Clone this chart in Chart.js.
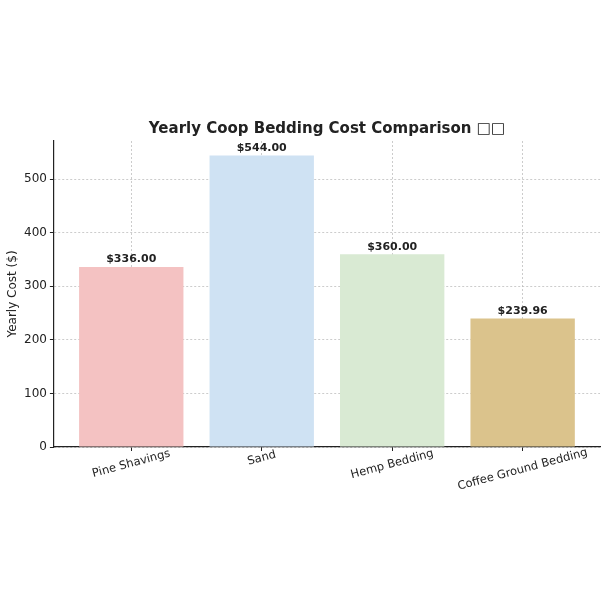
<!DOCTYPE html>
<html lang="en">
<head>
    <meta charset="UTF-8">
    <title>Yearly Coop Bedding Cost Comparison</title>
    <script src="https://cdn.jsdelivr.net/npm/chart.js"></script>
    <style>
        body { margin: 0; background: #fff; }
        #wrap { width: 608px; height: 608px; }
    </style>
</head>
<body>
    <div id="wrap"><canvas id="costChart" width="608" height="608"></canvas></div>

    <script>
        // Daten
        const chartTitle = 'Yearly Coop Bedding Cost Comparison \u25A1\u25A1';
        const beddingTypes = ['Pine Shavings', 'Sand', 'Hemp Bedding', 'Coffee Ground Bedding'];
        const yearlyCost = [336.00, 544.00, 360.00, 239.96];
        const barColors = ['#f4c2c2', '#cfe2f3', '#d9ead3', '#dbc38c'];
        const yTicks = [0, 100, 200, 300, 400, 500];

        const fontFamily = "'DejaVu Sans', sans-serif";

        // Titel, Werte ueber den Balken und schraege Kategorienamen
        const labelPlugin = {
            id: 'labels',
            afterDatasetsDraw(chart) {
                const ctx = chart.ctx;
                const area = chart.chartArea;
                const meta = chart.getDatasetMeta(0);
                ctx.save();
                ctx.fillStyle = '#222';
                ctx.textAlign = 'center';

                ctx.font = 'bold 15px ' + fontFamily;
                ctx.textBaseline = 'middle';
                ctx.fillText(chartTitle, (area.left + area.right) / 2, 129);

                ctx.font = 'bold 11px ' + fontFamily;
                ctx.textBaseline = 'bottom';
                meta.data.forEach((bar, i) => {
                    ctx.fillText('$' + yearlyCost[i].toFixed(2), bar.x, bar.y - 2);
                });

                const xScale = chart.scales.x;
                const rot = 15 * Math.PI / 180;
                ctx.font = '11.5px ' + fontFamily;
                ctx.textBaseline = 'middle';
                beddingTypes.forEach((name, i) => {
                    const px = xScale.getPixelForValue(i);
                    const w = ctx.measureText(name).width;
                    ctx.save();
                    ctx.translate(px, area.bottom + 8 + w * Math.sin(rot) * 0.42);
                    ctx.rotate(-rot);
                    ctx.fillText(name, 0, 0);
                    ctx.restore();
                });
                ctx.restore();
            }
        };

        const ctx = document.getElementById('costChart').getContext('2d');
        const costChart = new Chart(ctx, {
            type: 'bar',
            data: {
                datasets: [{
                    data: yearlyCost.map((v, i) => ({ x: i, y: v })),
                    backgroundColor: barColors,
                    borderWidth: 0,
                    barPercentage: 1,
                    categoryPercentage: 0.8
                }]
            },
            options: {
                responsive: false,
                animation: false,
                layout: {
                    padding: { top: 141, right: 8, bottom: 157, left: 7 }
                },
                plugins: {
                    legend: { display: false },
                    tooltip: { enabled: false },
                    title: { display: false }
                },
                scales: {
                    x: {
                        type: 'linear',
                        offset: false,
                        min: -0.593,
                        max: 3.593,
                        afterBuildTicks: (axis) => {
                            axis.ticks = beddingTypes.map((_, i) => ({ value: i }));
                        },
                        ticks: { display: false },
                        grid: {
                            offset: false,
                            color: 'rgba(176,176,176,0.65)',
                            tickColor: '#222',
                            tickLength: 4
                        },
                        border: { color: '#222', width: 1.2, dash: [2, 2] }
                    },
                    y: {
                        min: 0,
                        max: 571.2,
                        afterBuildTicks: (axis) => {
                            axis.ticks = yTicks.map(v => ({ value: v }));
                        },
                        ticks: {
                            color: '#222',
                            font: { family: fontFamily, size: 12 },
                            padding: 3
                        },
                        grid: {
                            color: 'rgba(176,176,176,0.65)',
                            tickColor: '#222',
                            tickLength: 4
                        },
                        border: { color: '#222', width: 1.2, dash: [2, 2] },
                        title: {
                            display: true,
                            text: 'Yearly Cost ($)',
                            color: '#222',
                            font: { family: fontFamily, size: 12, lineHeight: 1 },
                            padding: { top: 0, bottom: 2 }
                        }
                    }
                }
            },
            plugins: [labelPlugin]
        });
    </script>
</body>
</html>
